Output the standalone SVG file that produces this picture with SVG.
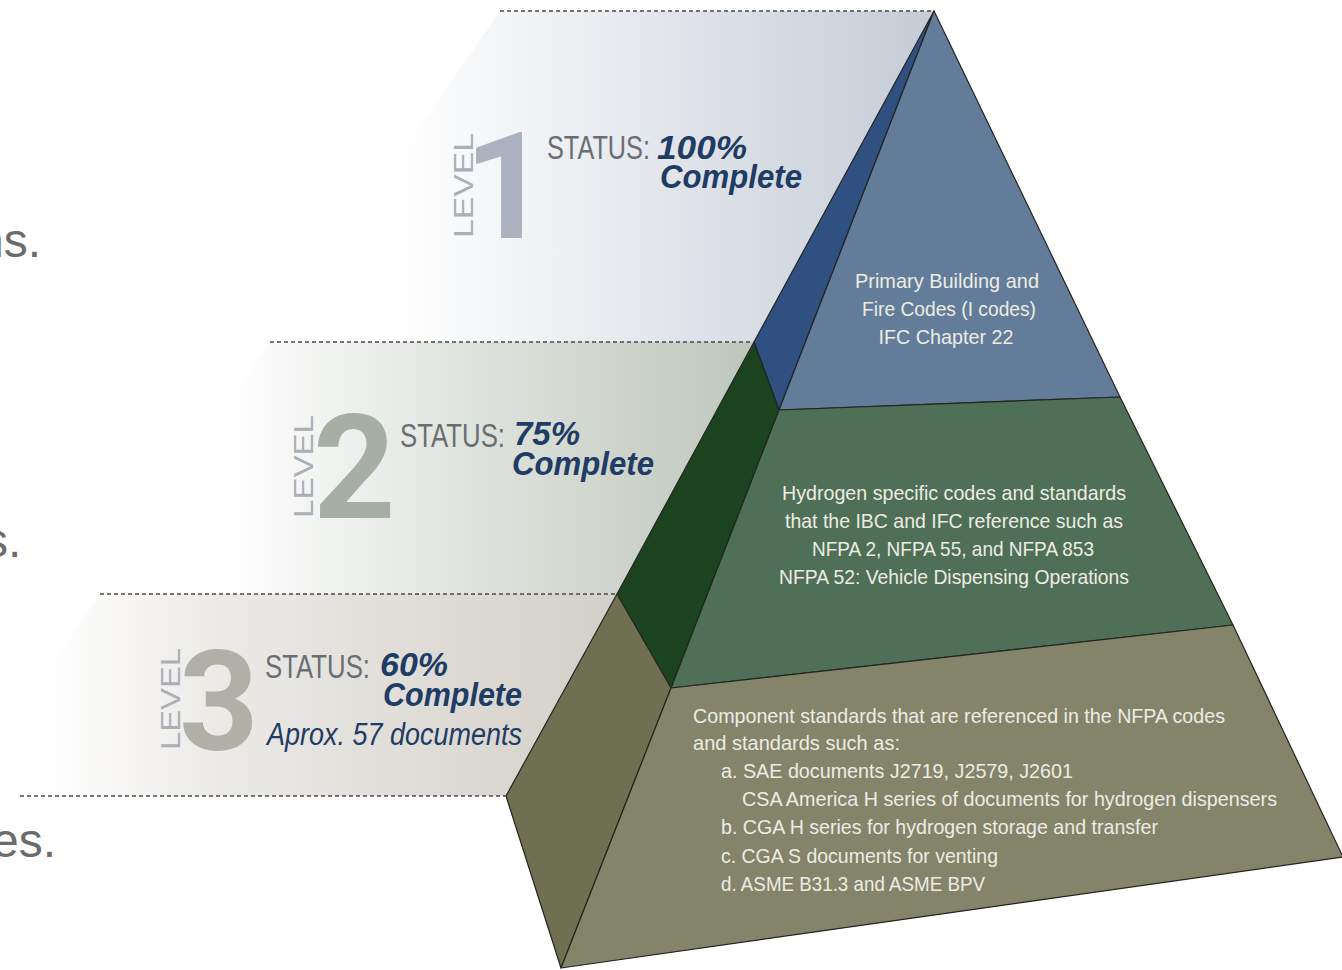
<svg xmlns="http://www.w3.org/2000/svg" width="1342" height="970" viewBox="0 0 1342 970">
<defs>
<linearGradient id="g1" gradientUnits="userSpaceOnUse" x1="400" y1="0" x2="925" y2="0">
<stop offset="0" stop-color="#ffffff"/><stop offset="0.3" stop-color="#eef0f3"/><stop offset="1" stop-color="#c6cdd7"/>
</linearGradient>
<linearGradient id="g2" gradientUnits="userSpaceOnUse" x1="230" y1="0" x2="750" y2="0">
<stop offset="0" stop-color="#ffffff"/><stop offset="0.3" stop-color="#e9ece8"/><stop offset="1" stop-color="#bfc7bd"/>
</linearGradient>
<linearGradient id="g3" gradientUnits="userSpaceOnUse" x1="50" y1="0" x2="610" y2="0">
<stop offset="0" stop-color="#ffffff"/><stop offset="0.3" stop-color="#eceae7"/><stop offset="1" stop-color="#d3d0c9"/>
</linearGradient>
<style>
.face{stroke:#232520;stroke-width:1.2;stroke-linejoin:round}
.guide{stroke:#4a4a4a;stroke-width:1.6;stroke-dasharray:4 3;fill:none}
.lvl{font-family:"Liberation Sans",Arial,sans-serif;font-size:28px;fill:#aab0b8}
.dig{font-family:Roboto,"Liberation Sans",Arial,sans-serif;font-weight:bold}
.st{font-family:"Liberation Sans",Arial,sans-serif;font-size:33px;fill:#6a6e73}
.pc{font-family:"Liberation Sans",Arial,sans-serif;font-size:33px;font-weight:bold;font-style:italic;fill:#1f3c64}
.ap{font-family:"Liberation Sans",Arial,sans-serif;font-size:31px;font-style:italic;fill:#1f3c64}
.in{font-family:"Liberation Sans",Arial,sans-serif;font-size:21px;fill:#ecece4}
.cut{font-family:"Liberation Sans",Arial,sans-serif;font-size:48px;fill:#6b6b6b}
</style>
</defs>
<rect width="1342" height="970" fill="#ffffff"/>

<g id="cut-text">
<text class="cut" x="-23" y="257">ns.</text>
<text class="cut" x="-16" y="557">s.</text>
<text class="cut" x="-8" y="857">es.</text>
</g>

<g id="level1">
<polygon points="500,11 934,11 754,342 270,342" fill="url(#g1)"/>
<polygon class="face" points="934,11 754,342 779,410" fill="#2f5080"/>
<polygon class="face" points="934,11 779,410 1120,397" fill="#627c99"/>
<text class="lvl" transform="translate(473,238) rotate(-90)" x="0" y="0" textLength="105" lengthAdjust="spacingAndGlyphs">LEVEL</text>
<text class="dig" x="464" y="238" font-size="148" fill="#a9b2be">1</text>
<text class="st" x="547" y="159" textLength="103" lengthAdjust="spacingAndGlyphs">STATUS:</text>
<text class="pc" x="657" y="159" textLength="90" lengthAdjust="spacingAndGlyphs">100%</text>
<text class="pc" x="660" y="188" textLength="142" lengthAdjust="spacingAndGlyphs">Complete</text>
<text class="in" x="947" y="288" text-anchor="middle" textLength="184" lengthAdjust="spacingAndGlyphs">Primary Building and</text>
<text class="in" x="949" y="316" text-anchor="middle" textLength="174" lengthAdjust="spacingAndGlyphs">Fire Codes (I codes)</text>
<text class="in" x="946" y="344" text-anchor="middle" textLength="135" lengthAdjust="spacingAndGlyphs">IFC Chapter 22</text>
</g>

<g id="level2">
<polygon points="270,342 754,342 617,594 100,594" fill="url(#g2)"/>
<polygon class="face" points="754,342 779,410 671,688 617,594" fill="#1c4320"/>
<polygon class="face" points="779,410 1120,397 1233,625 671,688" fill="#4f6f56"/>
<text class="lvl" transform="translate(313,518) rotate(-90)" x="0" y="0" textLength="103" lengthAdjust="spacingAndGlyphs" fill="#a7ada6">LEVEL</text>
<text class="dig" x="313" y="518" font-size="144" fill="#a7afa5">2</text>
<text class="st" x="400" y="447" textLength="105" lengthAdjust="spacingAndGlyphs">STATUS:</text>
<text class="pc" x="514" y="445" textLength="66" lengthAdjust="spacingAndGlyphs">75%</text>
<text class="pc" x="512" y="475" textLength="142" lengthAdjust="spacingAndGlyphs">Complete</text>
<text class="in" x="954" y="500" text-anchor="middle" textLength="344" lengthAdjust="spacingAndGlyphs">Hydrogen specific codes and standards</text>
<text class="in" x="954" y="528" text-anchor="middle" textLength="338" lengthAdjust="spacingAndGlyphs">that the IBC and IFC reference such as</text>
<text class="in" x="953" y="556" text-anchor="middle" textLength="282" lengthAdjust="spacingAndGlyphs">NFPA 2, NFPA 55, and NFPA 853</text>
<text class="in" x="954" y="584" text-anchor="middle" textLength="350" lengthAdjust="spacingAndGlyphs">NFPA 52: Vehicle Dispensing Operations</text>
</g>

<g id="level3">
<polygon points="100,594 617,594 506,796 -40,796" fill="url(#g3)"/>
<polygon class="face" points="617,594 671,688 561,968 506,796" fill="#6f6f51"/>
<polygon class="face" points="671,688 1233,625 1343,857 561,968" fill="#84846b"/>
<text class="lvl" transform="translate(180,750) rotate(-90)" x="0" y="0" textLength="102" lengthAdjust="spacingAndGlyphs" fill="#b3b3ac">LEVEL</text>
<text class="dig" x="179" y="750" font-size="139" fill="#b1b0a7">3</text>
<text class="st" x="265" y="678" textLength="105" lengthAdjust="spacingAndGlyphs">STATUS:</text>
<text class="pc" x="380" y="676" textLength="68" lengthAdjust="spacingAndGlyphs">60%</text>
<text class="pc" x="383" y="706" textLength="139" lengthAdjust="spacingAndGlyphs">Complete</text>
<text class="ap" x="267" y="745" textLength="255" lengthAdjust="spacingAndGlyphs">Aprox. 57 documents</text>
<text class="in" x="693" y="723" textLength="532" lengthAdjust="spacingAndGlyphs">Component standards that are referenced in the NFPA codes</text>
<text class="in" x="693" y="750" textLength="207" lengthAdjust="spacingAndGlyphs">and standards such as:</text>
<text class="in" x="721" y="778" textLength="352" lengthAdjust="spacingAndGlyphs">a. SAE documents J2719, J2579, J2601</text>
<text class="in" x="742" y="806" textLength="535" lengthAdjust="spacingAndGlyphs">CSA America H series of documents for hydrogen dispensers</text>
<text class="in" x="721" y="834" textLength="437" lengthAdjust="spacingAndGlyphs">b. CGA H series for hydrogen storage and transfer</text>
<text class="in" x="721" y="863" textLength="277" lengthAdjust="spacingAndGlyphs">c. CGA S documents for venting</text>
<text class="in" x="721" y="891" textLength="264" lengthAdjust="spacingAndGlyphs">d. ASME B31.3 and ASME BPV</text>
</g>

<g id="connectors">
<line class="guide" x1="500" y1="11" x2="934" y2="11"/>
<line class="guide" x1="270" y1="342" x2="754" y2="342"/>
<line class="guide" x1="100" y1="594" x2="617" y2="594"/>
<line class="guide" x1="20" y1="796" x2="506" y2="796"/>
</g>
</svg>
